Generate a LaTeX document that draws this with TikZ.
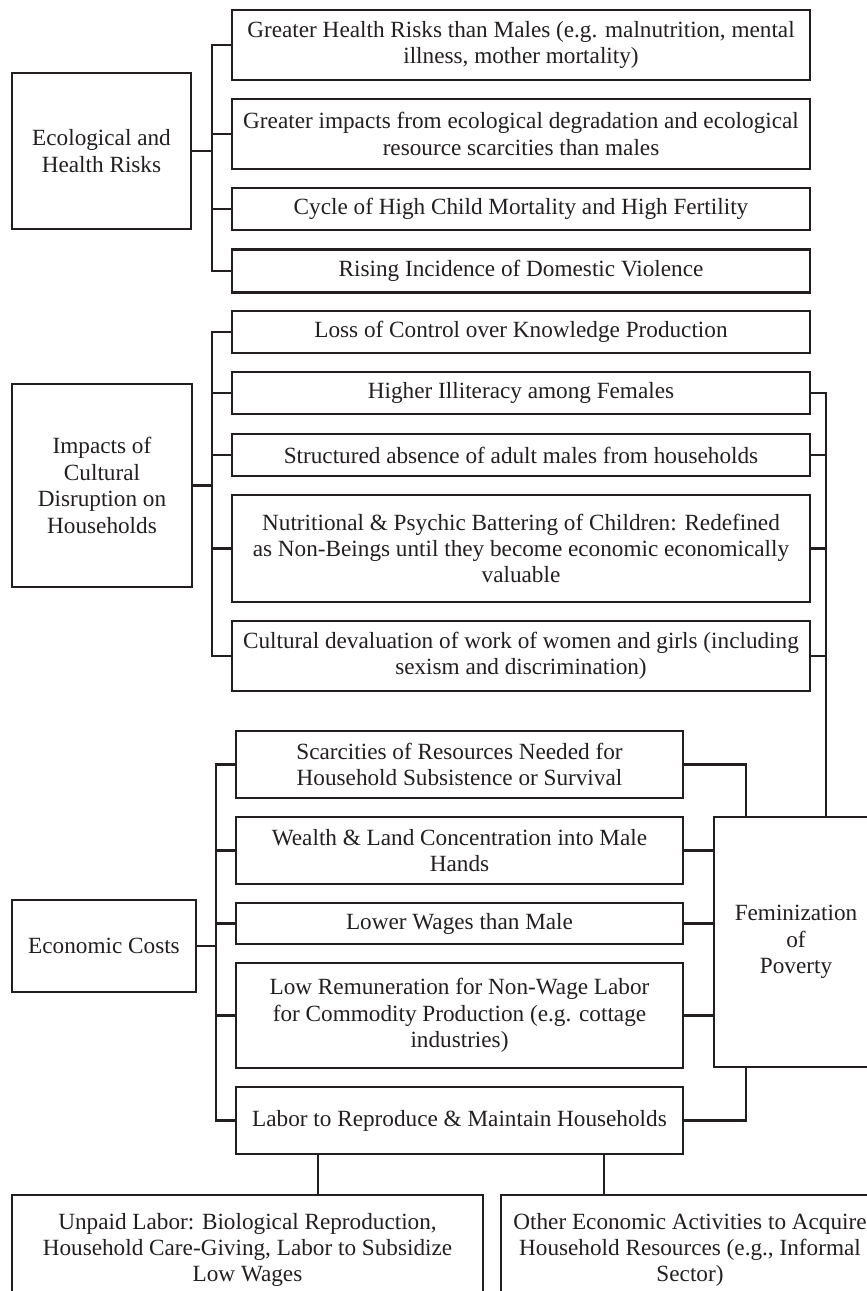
\documentclass[tikz,border=0pt]{standalone}
\usepackage{fontspec}
\setmainfont{Liberation Serif}
\definecolor{ink}{HTML}{231F20}
\begin{document}
\begin{tikzpicture}[x=1bp,y=-1bp,
  box/.style={draw=ink,line width=2.4bp,align=center,inner sep=2bp,
    font=\fontsize{23.3}{26.5}\selectfont,text=ink},
  wide/.style={box,minimum width=578bp},
  mid/.style={box,minimum width=447bp},
  link/.style={draw=ink,line width=2.4bp}]
\useasboundingbox (0,0) rectangle (867,1291);
\clip (0,0) rectangle (867,1291);
\fill[white] (0,0) rectangle (867,1291);
% group 1
\node[box,minimum width=179bp,minimum height=156bp] (eco) at (101.5,151) {Ecological and\\Health Risks};
\node[wide,minimum height=70bp] (gh) at (521,45) {Greater Health Risks than Males (e.g. malnutrition, mental\\illness, mother mortality)};
\node[wide,minimum height=70bp] (gi) at (521,134) {Greater impacts from ecological degradation and ecological\\resource scarcities than males};
\node[wide,minimum height=42bp] (cy) at (521,209) {Cycle of High Child Mortality and High Fertility};
\node[wide,minimum height=43bp] (ri) at (521,271) {Rising Incidence of Domestic Violence};
\coordinate (t1) at (212,0);
\draw[link] (eco.east) -- (eco.east -| t1);
\draw[link] (gh.west) -| (t1 |- ri.west) -- (ri.west);
\draw[link] (t1 |- gi.west) -- (gi.west);
\draw[link] (t1 |- cy.west) -- (cy.west);
% group 2
\node[box,minimum width=180bp,minimum height=203bp] (imp) at (102,485.5) {Impacts of\\Cultural\\Disruption on\\Households};
\node[wide,minimum height=42bp] (lo) at (521,332) {Loss of Control over Knowledge Production};
\node[wide,minimum height=42bp] (il) at (521,393) {Higher Illiteracy among Females};
\node[wide,minimum height=42bp] (st) at (521,455) {Structured absence of adult males from households};
\node[wide,minimum height=107bp] (nu) at (521,548.5) {Nutritional \& Psychic Battering of Children: Redefined\\as Non-Beings until they become economic economically\\valuable};
\node[wide,minimum height=70bp] (cu) at (521,656) {Cultural devaluation of work of women and girls (including\\sexism and discrimination)};
\draw[link] (imp.east) -- (imp.east -| t1);
\draw[link] (lo.west) -| (t1 |- cu.west) -- (cu.west);
\draw[link] (t1 |- il.west) -- (il.west);
\draw[link] (t1 |- st.west) -- (st.west);
\draw[link] (t1 |- nu.west) -- (nu.west);
% group 3
\node[box,minimum width=184bp,minimum height=92bp] (ec) at (104,946) {Economic Costs};
\node[mid,minimum height=67bp] (sc) at (459.5,764.5) {Scarcities of Resources Needed for\\Household Subsistence or Survival};
\node[mid,minimum height=67bp] (we) at (459.5,850.5) {Wealth \& Land Concentration into Male\\Hands};
\node[mid,minimum height=41bp] (lw) at (459.5,923.5) {Lower Wages than Male};
\node[mid,minimum height=105bp] (lr) at (459.5,1015.5) {Low Remuneration for Non-Wage Labor\\for Commodity Production (e.g. cottage\\industries)};
\node[mid,minimum height=67bp] (la) at (459.5,1120.5) {Labor to Reproduce \& Maintain Households};
\node[box,minimum width=164bp,minimum height=250bp] (fe) at (796,942) {Feminization\\of\\Poverty};
\coordinate (t2) at (216,0);
\draw[link] (ec.east) -- (ec.east -| t2);
\draw[link] (sc.west) -| (t2 |- la.west) -- (la.west);
\draw[link] (t2 |- we.west) -- (we.west);
\draw[link] (t2 |- lw.west) -- (lw.west);
\draw[link] (t2 |- lr.west) -- (lr.west);
% right side
\coordinate (t3) at (826,0);
\draw[link] (il.east) -| (t3 |- fe.north);
\draw[link] (st.east) -- (st.east -| t3);
\draw[link] (nu.east) -- (nu.east -| t3);
\draw[link] (cu.east) -- (cu.east -| t3);
\coordinate (t4) at (746,0);
\draw[link] (sc.east) -| (t4 |- fe.north);
\draw[link] (la.east) -| (t4 |- fe.south);
\draw[link] (we.east) -- (we.east -| fe.west);
\draw[link] (lw.east) -- (lw.east -| fe.west);
\draw[link] (lr.east) -- (lr.east -| fe.west);
% bottom
\node[box,minimum width=471bp,minimum height=110bp] (un) at (247.5,1250) {Unpaid Labor: Biological Reproduction,\\Household Care-Giving, Labor to Subsidize\\Low Wages};
\node[box,minimum width=378bp,minimum height=110bp] (ot) at (690,1250) {Other Economic Activities to Acquire\\Household Resources (e.g., Informal\\Sector)};
\coordinate (d1) at (318,0);
\coordinate (d2) at (604,0);
\draw[link] (d1 |- la.south) -- (d1 |- un.north);
\draw[link] (d2 |- la.south) -- (d2 |- ot.north);
\end{tikzpicture}
\end{document}
